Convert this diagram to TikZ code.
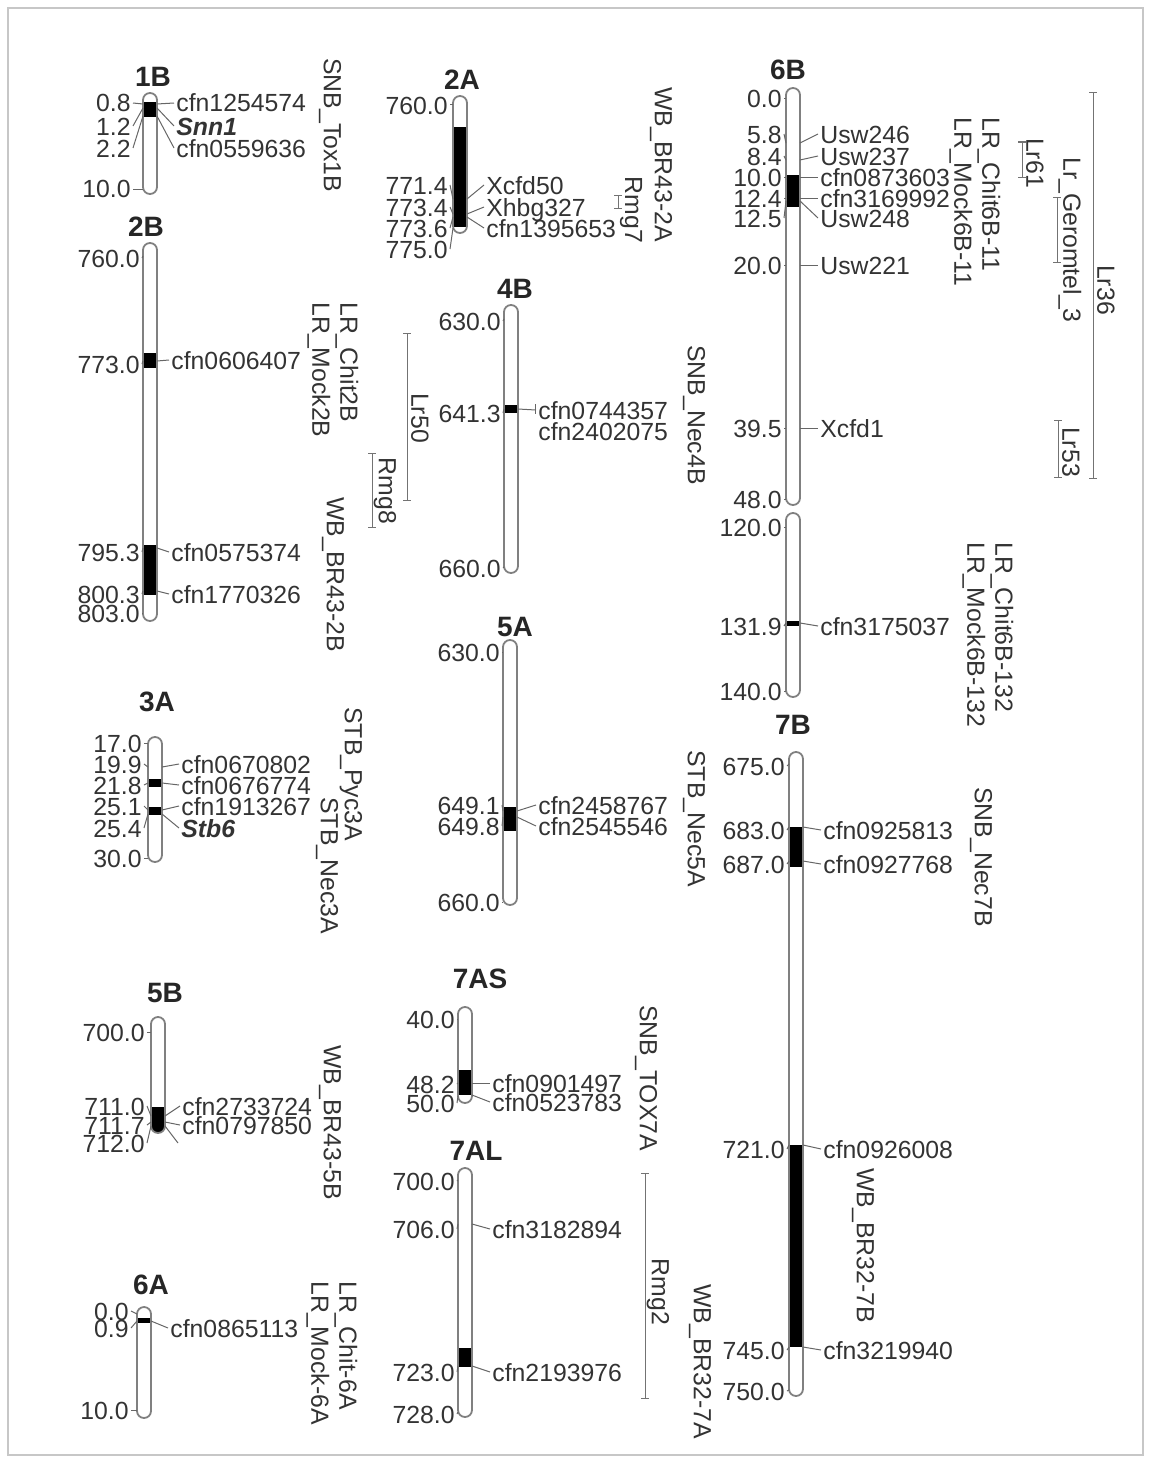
\documentclass[tikz,border=0pt]{standalone}
\usepackage{fontspec}
\setmainfont{Liberation Sans}
\newcommand\mapfont{\fontsize{12.4}{14}\selectfont}
\tikzset{
  frame/.style={draw=black!22,line width=1.2pt},
  chr/.style={draw=black!50,line width=0.9pt,rounded corners=3.5pt},
  tick/.style={draw=black!60,line width=0.5pt},
  posn/.style={anchor=east,inner sep=1pt,text height=9pt,text depth=0pt,text=black!80,font=\mapfont},
  mk/.style={anchor=west,inner sep=1pt,text height=9pt,text depth=0pt,text=black!80,font=\mapfont},
  ttl/.style={font=\bfseries\fontsize{14}{16}\selectfont,text=black!85},
  trait/.style={rotate=-90,anchor=west,align=left,inner sep=0pt,text=black!80,font=\mapfont},
  qtl/.style={draw=black!55,line width=0.5pt},
  qlab/.style={rotate=-90,inner sep=0pt,text=black!80,font=\mapfont}
}
% chromosome: x centre, top, bottom, black bands
\newcommand\chromosome[4]{%
  \begin{scope}
    \clip[rounded corners=3.5pt] (#1-7,#2) rectangle (#1+7,#3);
    \foreach \ba/\bb in {#4} {\fill (#1-7,\ba) rectangle (#1+7,\bb);}
  \end{scope}
  \draw[chr] (#1-7,#2) rectangle (#1+7,#3)}
% positions on the left: name prefix, x, chromosome edge, list
\newcommand\leftlabels[4]{%
  \foreach \lbl/\ly/\cy [count=\n] in {#4}
    {\node[posn] (#1\n) at (#2,\ly) {\lbl};
     \draw[tick] (#1\n.east) -- (#3,\cy);}}
% markers on the right
\newcommand\rightlabels[4]{%
  \foreach \lbl/\ly/\cy [count=\n] in {#4}
    {\node[mk] (#1\n) at (#2,\ly) {\lbl};
     \draw[tick] (#3,\cy) -- (#1\n.west);}}

\begin{document}
\begin{tikzpicture}[x=0.5pt,y=-0.5pt]
\useasboundingbox (0,0) rectangle (1149,1461);
\draw[frame] (8,8) rectangle (1143,1455);

% 1B
\node[ttl] (t1B) at (153,77) {1B};
\chromosome{150}{93}{194}{102/117};
\leftlabels{p1B}{133}{143}{0.8/103/104, 1.2/126/108, 2.2/148/116, 10.0/189/189}
\rightlabels{m1B}{174}{157}{cfn1254574/103/104, {\bfseries\itshape Snn1}/126/108, cfn0559636/148/116}
\node[trait] (r1B) at (330,58) {SNB\_Tox1B};

% 2A
\node[ttl] (t2A) at (462,80) {2A};
\chromosome{460}{96}{233}{127/227};
\leftlabels{p2A}{450}{453}{760.0/105/105, 771.4/185/199, 773.4/207/214, 773.6/228/217, 775.0/249/228}
\rightlabels{m2A}{484}{467}{Xcfd50/185/199, Xhbg327/207/214, cfn1395653/228/217}
\node[trait] (r2A) at (661,87) {WB\_BR43-2A};

% 2B
\node[ttl] (t2B) at (146,227) {2B};
\chromosome{150}{243}{621}{353/368, 545/595};
\leftlabels{p2B}{142}{143}{760.0/258/256, 773.0/364/361, 795.3/552/548, 800.3/594/591, 803.0/613/613}
\rightlabels{m2B}{169}{157}{cfn0606407/360/361, cfn0575374/552/548, cfn1770326/594/591}
\node[trait] (r2B) at (333,302) {LR\_Chit2B\\LR\_Mock2B};
\node[trait] (s2B) at (333,497) {WB\_BR43-2B};

% 4B
\node[ttl] (t4B) at (515,289) {4B};
\chromosome{511}{305}{573}{405/413};
\leftlabels{p4B}{503}{504}{630.0/321/319, 641.3/413/409, 660.0/568/567}
\rightlabels{m4B}{536}{518}{cfn0744357/410/409}
\node[mk] (m4B2) at (536,431) {cfn2402075};
\draw[tick] (535,404) -- (535,414);
\node[trait] (r4B) at (694,345) {SNB\_Nec4B};

% 5A
\node[ttl] (t5A) at (515,627) {5A};
\chromosome{510}{640}{905}{807/831};
\leftlabels{p5A}{502}{503}{630.0/652/652, 649.1/805/811, 649.8/826/817, 660.0/902/902}
\rightlabels{m5A}{536}{517}{cfn2458767/805/811, cfn2545546/826/817}
\node[trait] (r5A) at (694,750) {STB\_Nec5A};

% 3A
\node[ttl] (t3A) at (157,702) {3A};
\chromosome{155}{737}{862}{779/787, 807/815};
\leftlabels{p3A}{144}{148}{17.0/743/743, 19.9/764/767, 21.8/785/783, 25.1/806/810, 25.4/828/814, 30.0/858/858}
\rightlabels{m3A}{179}{162}{cfn0670802/764/767, cfn0676774/785/783, cfn1913267/806/810, {\bfseries\itshape Stb6}/828/814}
\node[trait] (r3A) at (351,707) {STB\_Pyc3A};
\node[trait] (s3A) at (327,797) {STB\_Nec3A};

% 5B
\node[ttl] (t5B) at (165,993) {5B};
\chromosome{158}{1017}{1133}{1107/1133};
\leftlabels{p5B}{147}{151}{700.0/1032/1032, 711.0/1106/1116, 711.7/1125/1122, 712.0/1143/1126}
\rightlabels{m5B}{180}{165}{cfn2733724/1106/1116, cfn0797850/1125/1122}
\coordinate (e5B) at (178,1143);
\draw[tick] (165,1126) -- (e5B);
\node[trait] (r5B) at (330,1045) {WB\_BR43-5B};

% 6A
\node[ttl] (t6A) at (151,1285) {6A};
\chromosome{144}{1307}{1418}{1318/1323};
\leftlabels{p6A}{131}{137}{0.0/1311/1314, 0.9/1328/1321, 10.0/1410/1410}
\rightlabels{m6A}{168}{151}{cfn0865113/1328/1321}
\node[trait] (r6A) at (332,1281) {LR\_Chit-6A\\LR\_Mock-6A};

% 7AS
\node[ttl] (t7AS) at (480,979) {7AS};
\chromosome{465}{1007}{1103}{1070/1095};
\leftlabels{p7AS}{457}{458}{40.0/1019/1019, 48.2/1084/1083, 50.0/1103/1096}
\rightlabels{m7AS}{490}{472}{cfn0901497/1083/1083, cfn0523783/1102/1095}
\node[trait] (r7AS) at (646,1005) {SNB\_TOX7A};

% 7AL
\node[ttl] (t7AL) at (476,1151) {7AL};
\chromosome{465}{1168}{1417}{1348/1367};
\leftlabels{p7AL}{457}{458}{700.0/1181/1180, 706.0/1229/1224, 723.0/1372/1366, 728.0/1414/1412}
\rightlabels{m7AL}{490}{472}{cfn3182894/1229/1224, cfn2193976/1372/1366}
\node[trait] (r7AL) at (700,1284) {WB\_BR32-7A};

% 6B
\node[ttl] (t6B) at (788,70) {6B};
\chromosome{793}{88}{505}{175/207};
\leftlabels{p6B}{784}{786}{0.0/99/99, 5.8/134/143, 8.4/156/160, 10.0/177/177, 12.4/198/198, 12.5/218/201, 20.0/265/265, 39.5/428/428, 48.0/499/499}
\rightlabels{m6B}{818}{800}{Usw246/134/143, Usw237/156/160, cfn0873603/177/177, cfn3169992/198/198, Usw248/218/201, Usw221/265/265, Xcfd1/428/428}
\node[trait] (r6B) at (975,117) {LR\_Chit6B-11\\LR\_Mock6B-11};
\chromosome{793}{513}{697}{621/626};
\leftlabels{p6Bb}{784}{786}{120.0/527/527, 131.9/626/623, 140.0/691/691}
\rightlabels{m6Bb}{818}{800}{cfn3175037/626/623}
\node[trait] (s6B) at (988,542) {LR\_Chit6B-132\\LR\_Mock6B-132};

% 7B
\node[ttl] (t7B) at (793,725) {7B};
\chromosome{796}{752}{1396}{827/867, 1145/1347};
\leftlabels{p7B}{787}{789}{675.0/766/764, 683.0/830/827, 687.0/864/861, 721.0/1149/1145, 745.0/1350/1347, 750.0/1391/1390}
\rightlabels{m7B}{821}{803}{cfn0925813/830/827, cfn0927768/864/861, cfn0926008/1149/1145, cfn3219940/1350/1347}
\node[trait] (r7B) at (981,787) {SNB\_Nec7B};
\node[trait] (s7B) at (863,1168) {WB\_BR32-7B};

% QTL bars
\foreach \bx/\ba/\bb/\lbl/\ly [count=\n] in {618/195/208/Rmg7/210, 407/333/500/Lr50/418,
    372/453/527/Rmg8/491, 645/1173/1398/Rmg2/1292, 1022/142/177/Lr61/163,
    1057/197/262/Lr\_Geromtel\_3/240, 1058/420/477/Lr53/452, 1093/93/478/Lr36/290}
  {\draw[qtl] (\bx-4,\ba) -- (\bx+4,\ba) (\bx,\ba) -- (\bx,\bb) (\bx-4,\bb) -- (\bx+4,\bb);
   \node[qlab] (q\n) at (\bx+13,\ly) {\lbl};}
\end{tikzpicture}
\end{document}
